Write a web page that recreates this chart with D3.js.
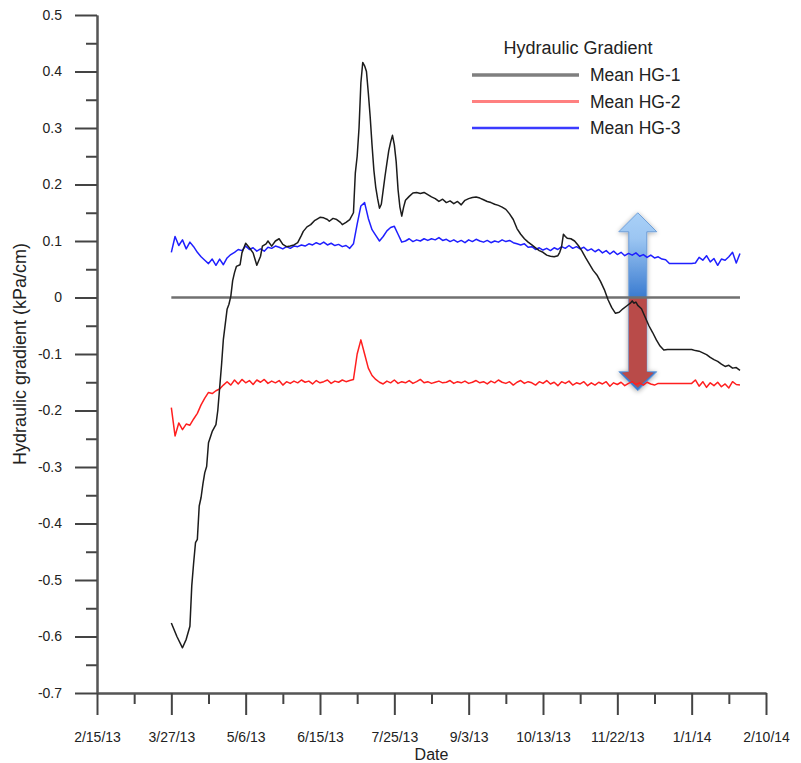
<!DOCTYPE html>
<html><head><meta charset="utf-8">
<script src="https://cdn.jsdelivr.net/npm/d3@7"></script>
<style>
body{margin:0;background:#fff}
svg{display:block}
text{font-family:"Liberation Sans",Arial,sans-serif;fill:#222}
</style>
</head><body>
<svg id="chart" width="801" height="763"></svg>
<script>
// ---------------- data ----------------
const xTickLabels = ["2/15/13","3/27/13","5/6/13","6/15/13","7/25/13","9/3/13","10/13/13","11/22/13","1/1/14","2/10/14"];
const yTicks = [0.5,0.4,0.3,0.2,0.1,0,-0.1,-0.2,-0.3,-0.4,-0.5,-0.6,-0.7];
const seriesNames = ["Mean HG-1","Mean HG-2","Mean HG-3"];
const legendTitle = "Hydraulic Gradient";
const xTitle = "Date";
const yTitle = "Hydraulic gradient (kPa/cm)";

// HG-2 / HG-3 sampled every 2 days starting 3/27/13
const sampleStart = "3/27/13";
const sampleStepDays = 2;
const hg3 = [0.08,0.108,0.092,0.102,0.086,0.098,0.09,0.08,0.072,0.066,0.06,0.068,0.057,0.068,0.058,0.07,0.076,0.08,0.085,0.083,
0.091,0.085,0.088,0.082,0.086,0.082,0.089,0.087,0.091,0.089,0.086,0.09,0.087,0.091,0.09,0.093,0.091,0.095,0.093,0.097,
0.094,0.098,0.093,0.096,0.092,0.094,0.09,0.092,0.087,0.095,0.13,0.162,0.168,0.14,0.12,0.11,0.1,0.108,0.118,0.124,
0.126,0.112,0.098,0.1,0.104,0.099,0.102,0.1,0.104,0.101,0.104,0.102,0.106,0.101,0.103,0.099,0.102,0.098,0.101,0.097,
0.102,0.099,0.103,0.1,0.098,0.101,0.097,0.1,0.098,0.102,0.099,0.101,0.097,0.095,0.093,0.095,0.089,0.09,0.085,0.088,
0.084,0.087,0.083,0.088,0.085,0.09,0.087,0.092,0.087,0.09,0.086,0.089,0.083,0.086,0.081,0.085,0.079,0.083,0.077,0.082,
0.076,0.08,0.074,0.078,0.075,0.079,0.073,0.076,0.071,0.075,0.07,0.072,0.068,0.067,0.06,0.06,0.06,0.06,0.06,0.06,
0.06,0.061,0.071,0.066,0.074,0.063,0.069,0.057,0.068,0.066,0.072,0.08,0.061,0.078];
const hg2 = [-0.195,-0.245,-0.222,-0.234,-0.224,-0.226,-0.215,-0.205,-0.19,-0.178,-0.168,-0.17,-0.165,-0.162,-0.155,-0.149,-0.155,-0.146,-0.153,-0.145,
-0.151,-0.147,-0.154,-0.146,-0.15,-0.145,-0.152,-0.148,-0.151,-0.147,-0.155,-0.149,-0.152,-0.148,-0.151,-0.146,-0.15,-0.148,-0.153,-0.147,
-0.151,-0.149,-0.146,-0.152,-0.148,-0.15,-0.146,-0.149,-0.147,-0.145,-0.1,-0.075,-0.1,-0.125,-0.138,-0.145,-0.15,-0.153,-0.148,-0.151,
-0.146,-0.152,-0.149,-0.151,-0.147,-0.152,-0.149,-0.145,-0.151,-0.149,-0.152,-0.15,-0.148,-0.151,-0.15,-0.147,-0.152,-0.149,-0.151,-0.148,
-0.152,-0.15,-0.147,-0.151,-0.149,-0.153,-0.148,-0.151,-0.146,-0.15,-0.152,-0.149,-0.155,-0.15,-0.147,-0.152,-0.149,-0.151,-0.155,-0.149,
-0.152,-0.147,-0.153,-0.15,-0.156,-0.149,-0.152,-0.148,-0.155,-0.151,-0.153,-0.149,-0.156,-0.151,-0.155,-0.15,-0.153,-0.149,-0.157,-0.151,
-0.154,-0.15,-0.156,-0.152,-0.149,-0.154,-0.151,-0.155,-0.15,-0.153,-0.155,-0.152,-0.152,-0.152,-0.152,-0.152,-0.152,-0.152,-0.152,-0.152,
-0.152,-0.146,-0.157,-0.149,-0.159,-0.151,-0.156,-0.15,-0.158,-0.153,-0.16,-0.149,-0.154,-0.155];

// HG-1: days since 2/15/13 and values
const hg1Days = [40,43,46,48,50,51,52,53,54,55,56,57,58,59,60,62,64,65,66,67,68,70,71,72,73,74,75,77,78,80,
82,84,86,88,89,91,92,94,96,98,100,102,104,106,108,110,111,113,115,117,118,120,122,124,125,127,129,131,132,134,
136,138,139,140,141,142,143,144,145,146,147,148,149,150,151,152,153,154,155,156,157,158,159,160,161,162,163,164,165,166,
168,170,172,174,176,178,180,182,184,186,188,190,192,194,196,198,200,202,204,206,208,210,212,214,216,218,220,222,224,226,
228,230,232,234,236,238,240,242,244,246,248,249,250,251,252,253,255,257,259,261,263,265,267,269,271,273,275,277,279,281,
283,285,287,288,289,290,291,293,295,297,299,301,303,305,307,312,316,320,322,324,326,328,330,332,334,336,338,340,342,344,346];
const hg1Values = [-0.576,-0.6,-0.62,-0.605,-0.582,-0.51,-0.47,-0.434,-0.428,-0.369,-0.354,-0.33,-0.31,-0.299,-0.257,-0.237,-0.225,-0.2,-0.16,-0.12,-0.074,-0.021,-0.012,0.002,0.03,0.044,0.055,0.058,0.079,0.096,
0.088,0.079,0.057,0.073,0.091,0.095,0.1,0.091,0.1,0.104,0.094,0.09,0.091,0.093,0.097,0.11,0.117,0.125,0.129,0.136,0.138,0.142,0.141,0.138,0.135,0.14,0.138,0.133,0.129,0.133,
0.138,0.15,0.22,0.25,0.3,0.38,0.416,0.41,0.4,0.362,0.32,0.27,0.225,0.195,0.175,0.158,0.165,0.19,0.215,0.238,0.26,0.275,0.287,0.27,0.24,0.191,0.16,0.144,0.16,0.172,
0.179,0.185,0.186,0.184,0.186,0.182,0.178,0.175,0.17,0.174,0.168,0.171,0.166,0.17,0.164,0.172,0.175,0.177,0.178,0.176,0.173,0.17,0.168,0.165,0.163,0.16,0.156,0.148,0.138,0.122,
0.112,0.104,0.098,0.093,0.088,0.083,0.08,0.075,0.073,0.072,0.074,0.08,0.09,0.112,0.108,0.105,0.104,0.1,0.092,0.082,0.07,0.059,0.048,0.04,0.028,0.014,-0.004,-0.018,-0.028,-0.026,
-0.02,-0.015,-0.01,-0.006,-0.01,-0.008,-0.014,-0.02,-0.035,-0.05,-0.062,-0.075,-0.086,-0.093,-0.092,-0.092,-0.092,-0.092,-0.094,-0.095,-0.098,-0.101,-0.106,-0.11,-0.113,-0.118,-0.122,-0.12,-0.125,-0.124,-0.129];

// annotation arrow (date, top value, bottom value)
const arrowDate = "12/3/13";
const arrowTop = 0.15;
const arrowBottom = -0.165;

// ---------------- chart ----------------
const parseD = d3.utcParse("%m/%d/%y");
const fmtD = d => `${d.getUTCMonth()+1}/${d.getUTCDate()}/${String(d.getUTCFullYear()).slice(2)}`;
const origin = parseD(xTickLabels[0]);
const tickDates = xTickLabels.map(parseD);
const minorDates = tickDates.slice(0,-1).map((d,i)=> new Date((+d + +tickDates[i+1])/2));

const svg = d3.select("#chart");
const x = d3.scaleUtc().domain([tickDates[0], tickDates[tickDates.length-1]]).range([97,766]);
const y = d3.scaleLinear().domain([-0.7,0.5]).range([693,15]);

const s0 = parseD(sampleStart);
const hg3Data = hg3.map((v,i)=>({date:d3.utcDay.offset(s0,i*sampleStepDays), v}));
const hg2Data = hg2.map((v,i)=>({date:d3.utcDay.offset(s0,i*sampleStepDays), v}));
const hg1Data = hg1Days.map((d,i)=>({date:d3.utcDay.offset(origin,d), v:hg1Values[i]}));

// arrow (drawn under lines)
const defs = svg.append("defs");
const ax = x(parseD(arrowDate)), ay1 = y(arrowTop), ay2 = y(arrowBottom), ay0 = y(0);
const g1 = defs.append("linearGradient").attr("id","blueGrad")
  .attr("gradientUnits","userSpaceOnUse").attr("x1",0).attr("x2",0).attr("y1",ay1).attr("y2",ay0);
g1.append("stop").attr("offset",0).attr("stop-color","#a9d0f7");
g1.append("stop").attr("offset",0.3).attr("stop-color","#9cc6f2");
g1.append("stop").attr("offset",1).attr("stop-color","#3a7bd0");
const filt = defs.append("filter").attr("id","shadow").attr("x","-50%").attr("y","-20%").attr("width","200%").attr("height","140%");
filt.append("feGaussianBlur").attr("in","SourceAlpha").attr("stdDeviation",2.5).attr("result","b");
filt.append("feOffset").attr("dy",1).attr("result","o");
filt.append("feComponentTransfer").append("feFuncA").attr("type","linear").attr("slope",0.35);
const fm = filt.append("feMerge"); fm.append("feMergeNode"); fm.append("feMergeNode").attr("in","SourceGraphic");

const hw = 19, sw = 9, hh = 19;
const arrowPts = [[ax,ay1],[ax+hw,ay1+hh],[ax+sw,ay1+hh],[ax+sw,ay2-hh],[ax+hw,ay2-hh],[ax,ay2],
  [ax-hw,ay2-hh],[ax-sw,ay2-hh],[ax-sw,ay1+hh],[ax-hw,ay1+hh]];
const ag = svg.append("g");
ag.append("path").attr("d", d3.line()(arrowPts)+"Z").attr("fill","url(#blueGrad)")
  .attr("stroke","#6f9fd9").attr("stroke-width",1).attr("filter","url(#shadow)");
const redPts = [[ax+sw,ay0],[ax+sw,ay2-hh],[ax+hw-3,ay2-hh+1],[ax,ay2-3],[ax-hw+3,ay2-hh+1],[ax-sw,ay2-hh],[ax-sw,ay0]];
ag.append("path").attr("d", d3.line()(redPts)+"Z").attr("fill","#b94b49");

// axes
const fmtY = v => String(+v.toFixed(1));
const yMinor = d3.range(-0.65,0.5,0.1).map(v=>+v.toFixed(2));
function styleAxis(g){
  g.select(".domain").attr("stroke","#555").attr("stroke-width",2);
  g.selectAll(".tick line").attr("stroke","#444").attr("stroke-width",2);
  g.selectAll(".tick text").attr("fill","#333").style("font-size","14px").style("font-family",'"Liberation Sans",Arial,sans-serif');
}
svg.append("g").attr("transform","translate(97,0)")
  .call(d3.axisLeft(y).tickValues(yMinor).tickSize(11).tickSizeOuter(0).tickFormat(""))
  .call(styleAxis);
svg.append("g").attr("transform","translate(97,0)")
  .call(d3.axisLeft(y).tickValues(yTicks).tickSize(22).tickSizeOuter(0).tickPadding(13).tickFormat(fmtY))
  .call(styleAxis);
svg.append("g").attr("transform","translate(0,693)")
  .call(d3.axisBottom(x).tickValues(minorDates).tickSize(11).tickSizeOuter(0).tickFormat(""))
  .call(styleAxis);
svg.append("g").attr("transform","translate(0,693)")
  .call(d3.axisBottom(x).tickValues(tickDates).tickSize(22).tickSizeOuter(0).tickPadding(17).tickFormat(fmtD))
  .call(styleAxis);

svg.append("text").attr("x",x(d3.utcDay.offset(origin,180))).attr("y",760).attr("text-anchor","middle")
  .style("font-size","16px").text(xTitle);
svg.append("text").attr("transform",`translate(26,${(15+693)/2}) rotate(-90)`).attr("text-anchor","middle")
  .style("font-size","18px").text(yTitle);

// zero line
svg.append("line").attr("x1",x(hg2Data[0].date)).attr("x2",x(hg2Data[hg2Data.length-1].date))
  .attr("y1",y(0)).attr("y2",y(0)).attr("stroke","#707070").attr("stroke-width",2.5);

// series
const line = d3.line().x(d=>x(d.date)).y(d=>y(d.v));
const colors = ["#1c1c1c","#ff1f1f","#1f1fff"];
svg.append("path").datum(hg3Data).attr("d",line).attr("fill","none").attr("stroke",colors[2]).attr("stroke-width",1.5).attr("stroke-linejoin","round");
svg.append("path").datum(hg2Data).attr("d",line).attr("fill","none").attr("stroke",colors[1]).attr("stroke-width",1.5).attr("stroke-linejoin","round");
svg.append("path").datum(hg1Data).attr("d",line).attr("fill","none").attr("stroke",colors[0]).attr("stroke-width",1.5).attr("stroke-linejoin","round");

// legend
const legColors = ["#7f7f7f","#ff8080","#3b3bff"];
const legWidths = [3.5,3,2.5];
const lg = svg.append("g");
lg.append("text").attr("x",578).attr("y",54).attr("text-anchor","middle").style("font-size","18px").text(legendTitle);
seriesNames.forEach((n,i)=>{
  const yy = 75 + i*26.5;
  lg.append("line").attr("x1",472).attr("x2",579).attr("y1",yy).attr("y2",yy)
    .attr("stroke",legColors[i]).attr("stroke-width",legWidths[i]);
  lg.append("text").attr("x",590).attr("y",yy+6).style("font-size","17.5px").text(n);
});
</script>
</body></html>
